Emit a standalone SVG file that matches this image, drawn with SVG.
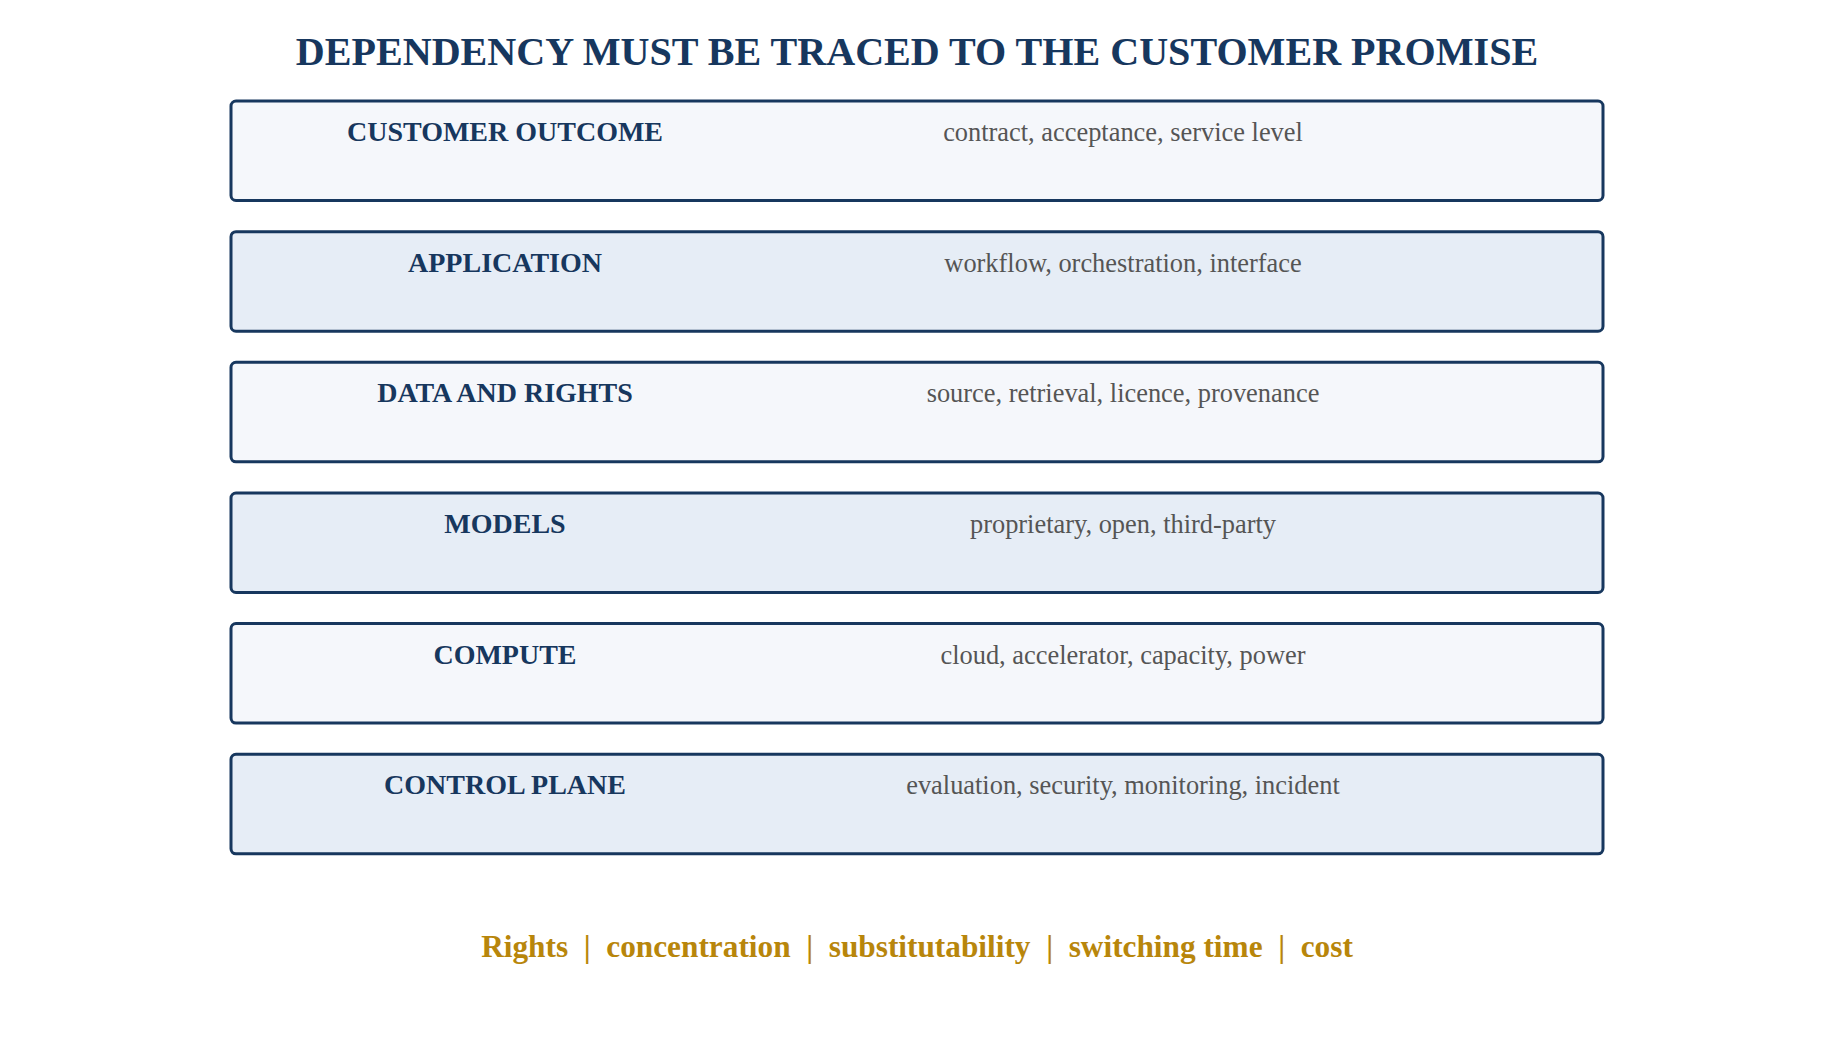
<svg xmlns="http://www.w3.org/2000/svg" width="1834" height="1060" viewBox="0 0 1834 1060">
<style>
.bg{fill:#ffffff}
.box{stroke:#17375e;stroke-width:3}
.odd{fill:#f5f7fb}
.even{fill:#e6edf6}
.title{font-family:"Liberation Serif","Times New Roman",serif;font-weight:bold;font-size:40.1px;fill:#17375e;text-anchor:middle}
.lbl{font-family:"Liberation Serif","Times New Roman",serif;font-weight:bold;font-size:28px;fill:#17375e;text-anchor:middle}
.desc{font-family:"Liberation Serif","Times New Roman",serif;font-size:26.4px;fill:#555555;text-anchor:middle}
.foot{font-family:"Liberation Serif","Times New Roman",serif;font-weight:bold;font-size:31.3px;fill:#b8860b;text-anchor:middle;white-space:pre}
</style>
<rect class="bg" x="0" y="0" width="1834" height="1060"/>
<text class="title" x="917" y="65">DEPENDENCY MUST BE TRACED TO THE CUSTOMER PROMISE</text>
<g id="layer-customer-outcome">
<rect class="box odd" x="231" y="101" width="1372" height="99.5" rx="5"/>
<text class="lbl" x="505" y="141">CUSTOMER OUTCOME</text>
<text class="desc" x="1123" y="141">contract, acceptance, service level</text>
</g>
<g id="layer-application">
<rect class="box even" x="231" y="231.7" width="1372" height="99.5" rx="5"/>
<text class="lbl" x="505" y="271.7">APPLICATION</text>
<text class="desc" x="1123" y="271.7">workflow, orchestration, interface</text>
</g>
<g id="layer-data-rights">
<rect class="box odd" x="231" y="362.3" width="1372" height="99.5" rx="5"/>
<text class="lbl" x="505" y="402.3">DATA AND RIGHTS</text>
<text class="desc" x="1123" y="402.3">source, retrieval, licence, provenance</text>
</g>
<g id="layer-models">
<rect class="box even" x="231" y="493" width="1372" height="99.5" rx="5"/>
<text class="lbl" x="505" y="533">MODELS</text>
<text class="desc" x="1123" y="533">proprietary, open, third-party</text>
</g>
<g id="layer-compute">
<rect class="box odd" x="231" y="623.6" width="1372" height="99.5" rx="5"/>
<text class="lbl" x="505" y="663.6">COMPUTE</text>
<text class="desc" x="1123" y="663.6">cloud, accelerator, capacity, power</text>
</g>
<g id="layer-control-plane">
<rect class="box even" x="231" y="754.3" width="1372" height="99.5" rx="5"/>
<text class="lbl" x="505" y="794.3">CONTROL PLANE</text>
<text class="desc" x="1123" y="794.3">evaluation, security, monitoring, incident</text>
</g>
<g id="connectors"></g>
<text class="foot" x="917" y="957" xml:space="preserve">Rights  |  concentration  |  substitutability  |  switching time  |  cost</text>
</svg>
